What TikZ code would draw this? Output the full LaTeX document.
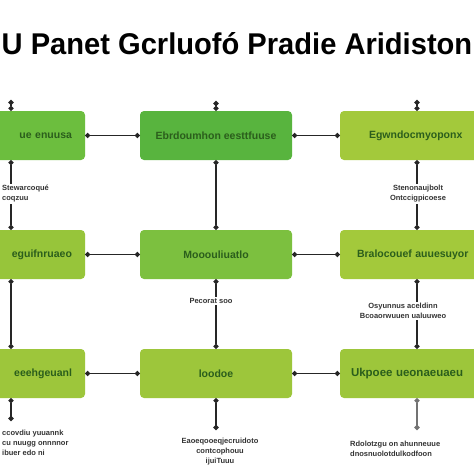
\documentclass[tikz,border=0pt]{standalone}
\usepackage{fontspec}
\setmainfont{Liberation Sans}
\usetikzlibrary{arrows.meta}
\definecolor{gA}{HTML}{6CBE3E}
\definecolor{gB}{HTML}{58B43E}
\definecolor{gC}{HTML}{A3C93B}
\definecolor{gD}{HTML}{97C53A}
\definecolor{gE}{HTML}{7CC03F}
\definecolor{gF}{HTML}{9DC63B}
\definecolor{txtg}{HTML}{2B5E1C}
\definecolor{lbl}{HTML}{333333}
\tikzset{
  box/.style={draw=none, rounded corners=4pt, minimum height=49pt, font=\fontsize{10.5}{12}\selectfont\bfseries\color{txtg}, inner sep=0pt},
  leftbox/.style={box, minimum width=148pt, text width=122pt, align=right},
  midbox/.style={box, minimum width=152pt, align=center},
  rightbox/.style={box, minimum width=154pt, text width=120pt, align=left},
  conn/.style={draw=black!85, line width=1.3pt, {Circle[length=5pt]}-{Circle[length=5pt]}},
  lab/.style={font=\fontsize{7.5}{10}\selectfont\bfseries\color{lbl}, fill=white, inner sep=1pt},
}
\begin{document}
\begin{tikzpicture}[x=1pt,y=-1pt]
\useasboundingbox (0,0) rectangle (474,474);
\clip (0,0) rectangle (474,474);
\fill[white] (0,0) rectangle (474,474);
% title
\node (title) at (237,44) {\scalebox{0.97}[1]{\fontsize{30}{32}\selectfont\bfseries U Panet Gcrluofó Pradie Aridiston}};
% boxes
\node[leftbox, fill=gA] (L1) at (11,135.5) {ue enuusa\hspace{12pt}};
\node[midbox, fill=gB] (M1) at (216,135.5) {Ebrdoumhon eesttfuuse};
\node[rightbox, fill=gC] (R1) at (417,135.5) {\hspace{12pt}Egwndocmyoponx};
\node[leftbox, fill=gD] (L2) at (11,254.5) {eguifnruaeo};
\node[midbox, fill=gE] (M2) at (216,254.5) {Mooouliuatlo};
\node[rightbox, fill=gC] (R2) at (417,254.5) {Bralocouef auuesuyor};
\node[leftbox, fill=gF] (L3) at (11,373.5) {eeehgeuanl};
\node[midbox, fill=gF] (M3) at (216,373.5) {loodoe};
\node[rightbox, fill=gF] (R3) at (417,373.5) {\hspace{-6pt}\fontsize{11.5}{12}\selectfont Ukpoee ueonaeuaeu};
% horizontal connectors
\draw[conn] (L1) -- (M1);
\draw[conn] (M1) -- (R1);
\draw[conn] (L2) -- (M2);
\draw[conn] (M2) -- (R2);
\draw[conn] (L3) -- (M3);
\draw[conn] (M3) -- (R3);
% top stubs
\coordinate (t1) at (11,100);
\coordinate (t2) at (216,101);
\coordinate (t3) at (417,100);
\draw[conn] (t1) -- (L1.north);
\draw[conn] (t2) -- (M1.north);
\draw[conn] (t3) -- (R1.north);
% vertical connectors
\draw[conn] (L1.south) -- (L2.north);
\draw[conn] (M1.south) -- (M2.north);
\draw[conn] (R1.south) -- (R2.north);
\draw[conn] (L2.south) -- (L3.north);
\draw[conn] (M2.south) -- (M3.north);
\draw[conn] (R2.south) -- (R3.north);
% bottom stubs
\coordinate (b1) at (11,421);
\coordinate (b2) at (216,430);
\coordinate (b3) at (417,430);
\draw[conn] (L3.south) -- (b1);
\draw[conn] (M3.south) -- (b2);
\draw[conn, draw=black!55] (R3.south) -- (b3);
% labels
\node[lab, align=left, anchor=west] (la1) at (1,194) {Stewarcoqué\\coqzuu};
\node[lab, align=center] (la2) at (418,194) {Stenonaujbolt\\Ontccigpicoese};
\node[lab, align=center] (la3) at (211,301) {Pecorat soo};
\node[lab, align=center] (la4) at (403,311) {Osyunnus aceldinn\\Bcoaorwuuen ualuuweo};
\node[lab, align=left, anchor=west] (la5) at (1,443) {ccovdiu yuuannk\\cu nuugg onnnnor\\ibuer edo ni};
\node[lab, align=center] (la6) at (220,452) {Eaoeqooeqjecruidoto\\contcophouu\\ijuiTuuu};
\node[lab, align=left, anchor=west] (la7) at (349,449) {Rdolotzgu on ahunneuue\\dnosnuolotdulkodfoon};
\end{tikzpicture}
\end{document}
